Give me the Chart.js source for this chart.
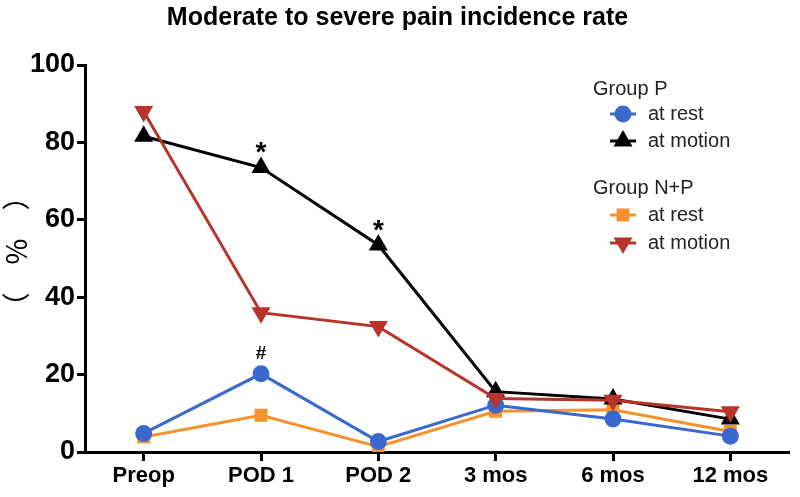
<!DOCTYPE html>
<html>
<head>
<meta charset="utf-8">
<script src="https://cdn.jsdelivr.net/npm/chart.js@4"></script>
<style>
  html, body { margin: 0; padding: 0; background: #fff; }
  #wrap { width: 800px; height: 497px; }
</style>
</head>
<body>
<div id="wrap"><canvas id="painChart"></canvas></div>
<script>
const categories = ['Preop', 'POD 1', 'POD 2', '3 mos', '6 mos', '12 mos'];
const yTicks = [0, 20, 40, 60, 80, 100];

const pRest = [4.8, 20.2, 2.7, 12.1, 8.5, 4.1];
const pMotion = [81.6, 73.5, 53.5, 15.6, 13.7, 8.5];
const npRest = [3.9, 9.5, 1.4, 10.5, 10.9, 5.3];
const npMotion = [88, 36, 32.4, 13.8, 13.4, 10.4];

// significance marks above points
const pMotionMarks = ['', '*', '*', '', '', ''];
const pRestMarks = ['', '#', '', '', '', ''];

const FONT = 'Liberation Sans, Arial, Helvetica, sans-serif';
const BLUE = '#3a68cf';
const BLACK = '#000000';
const ORANGE = '#f5922e';
const RED = '#b8342b';

const marksPlugin = {
    id: 'marks',
    afterDatasetsDraw(chart) {
        const ctx = chart.ctx;
        ctx.save();
        ctx.fillStyle = '#000';
        ctx.textAlign = 'center';
        ctx.textBaseline = 'middle';
        const draw = (dsIndex, marks, size, off) => {
            const meta = chart.getDatasetMeta(dsIndex);
            marks.forEach((m, i) => {
                if (!m) return;
                const pt = meta.data[i];
                ctx.font = 'bold ' + size + 'px ' + FONT;
                ctx.fillText(m, pt.x, pt.y - off);
            });
        };
        draw(1, pMotionMarks, 28, 14);
        draw(0, pRestMarks, 19, 20);
        ctx.restore();
    }
};

const legendPlugin = {
    id: 'groupLegend',
    afterDraw(chart) {
        const ctx = chart.ctx;
        const items = [
            { text: 'Group P', header: true, y: 89 },
            { text: 'at rest', ds: 0, y: 114 },
            { text: 'at motion', ds: 1, y: 141 },
            { text: 'Group N+P', header: true, y: 188 },
            { text: 'at rest', ds: 2, y: 215 },
            { text: 'at motion', ds: 3, y: 243 }
        ];
        ctx.save();
        ctx.textBaseline = 'middle';
        ctx.textAlign = 'left';
        ctx.font = '20px ' + FONT;
        items.forEach(it => {
            if (it.header) {
                ctx.fillStyle = '#222';
                ctx.fillText(it.text, 593, it.y);
                return;
            }
            const ds = chart.data.datasets[it.ds];
            ctx.strokeStyle = ds.borderColor;
            ctx.lineWidth = 3;
            ctx.beginPath();
            ctx.moveTo(610, it.y);
            ctx.lineTo(636, it.y);
            ctx.stroke();
            ctx.fillStyle = ds.backgroundColor;
            Chart.helpers.drawPoint(ctx, {
                pointStyle: ds.pointStyle,
                radius: ds.pointRadius,
                rotation: ds.pointRotation || 0,
                borderWidth: 1
            }, 623, it.y);
            ctx.fillStyle = '#222';
            ctx.fillText(it.text, 648, it.y);
        });
        ctx.restore();
    }
};

function initChart() {
    const ctx = document.getElementById('painChart').getContext('2d');
    new Chart(ctx, {
        type: 'line',
        data: {
            labels: categories,
            datasets: [{
                label: 'Group P at rest',
                data: pRest,
                borderColor: BLUE,
                backgroundColor: BLUE,
                pointStyle: 'circle',
                pointRadius: 7,
                borderWidth: 3,
                order: 1
            }, {
                label: 'Group P at motion',
                data: pMotion,
                borderColor: BLACK,
                backgroundColor: BLACK,
                pointStyle: 'triangle',
                pointRadius: 8,
                borderWidth: 3,
                order: 2
            }, {
                label: 'Group N+P at rest',
                data: npRest,
                borderColor: ORANGE,
                backgroundColor: ORANGE,
                pointStyle: 'rect',
                pointRadius: 7,
                borderWidth: 3,
                order: 3
            }, {
                label: 'Group N+P at motion',
                data: npMotion,
                borderColor: RED,
                backgroundColor: RED,
                pointStyle: 'triangle',
                pointRotation: 180,
                pointRadius: 8,
                borderWidth: 3,
                order: 0
            }]
        },
        options: {
            responsive: true,
            maintainAspectRatio: false,
            animation: false,
            layout: { padding: { top: 0, right: 5, left: 0, bottom: 0 } },
            plugins: {
                legend: { display: false },
                tooltip: { enabled: false },
                title: {
                    display: true,
                    text: 'Moderate to severe pain incidence rate',
                    color: '#000',
                    font: { family: FONT, size: 25, weight: 'bold' },
                    padding: { top: 3, bottom: 32 }
                }
            },
            scales: {
                x: {
                    offset: true,
                    grid: {
                        display: true,
                        drawOnChartArea: false,
                        tickLength: 9,
                        tickWidth: 3,
                        tickColor: '#000',
                        offset: false
                    },
                    border: { color: '#000', width: 3 },
                    ticks: {
                        color: '#000',
                        padding: 2,
                        font: { family: FONT, size: 22, weight: 'bold' }
                    },
                    afterFit: s => { s.height = 45; }
                },
                y: {
                    min: 0,
                    max: 100,
                    afterBuildTicks: s => { s.ticks = yTicks.map(v => ({ value: v })); },
                    grid: {
                        display: true,
                        drawOnChartArea: false,
                        tickLength: 8,
                        tickWidth: 3,
                        tickColor: '#000'
                    },
                    border: { color: '#000', width: 3 },
                    ticks: {
                        color: '#000',
                        padding: 2,
                        font: { family: FONT, size: 27, weight: 'bold' }
                    },
                    title: {
                        display: true,
                        text: '　（　%　）',
                        color: '#000',
                        padding: { top: 0, bottom: 2 },
                        font: { family: 'Noto Sans CJK SC', size: 28 }
                    },
                    afterFit: s => { s.width = 85; }
                }
            }
        },
        plugins: [marksPlugin, legendPlugin]
    });
}

initChart();
</script>
</body>
</html>
